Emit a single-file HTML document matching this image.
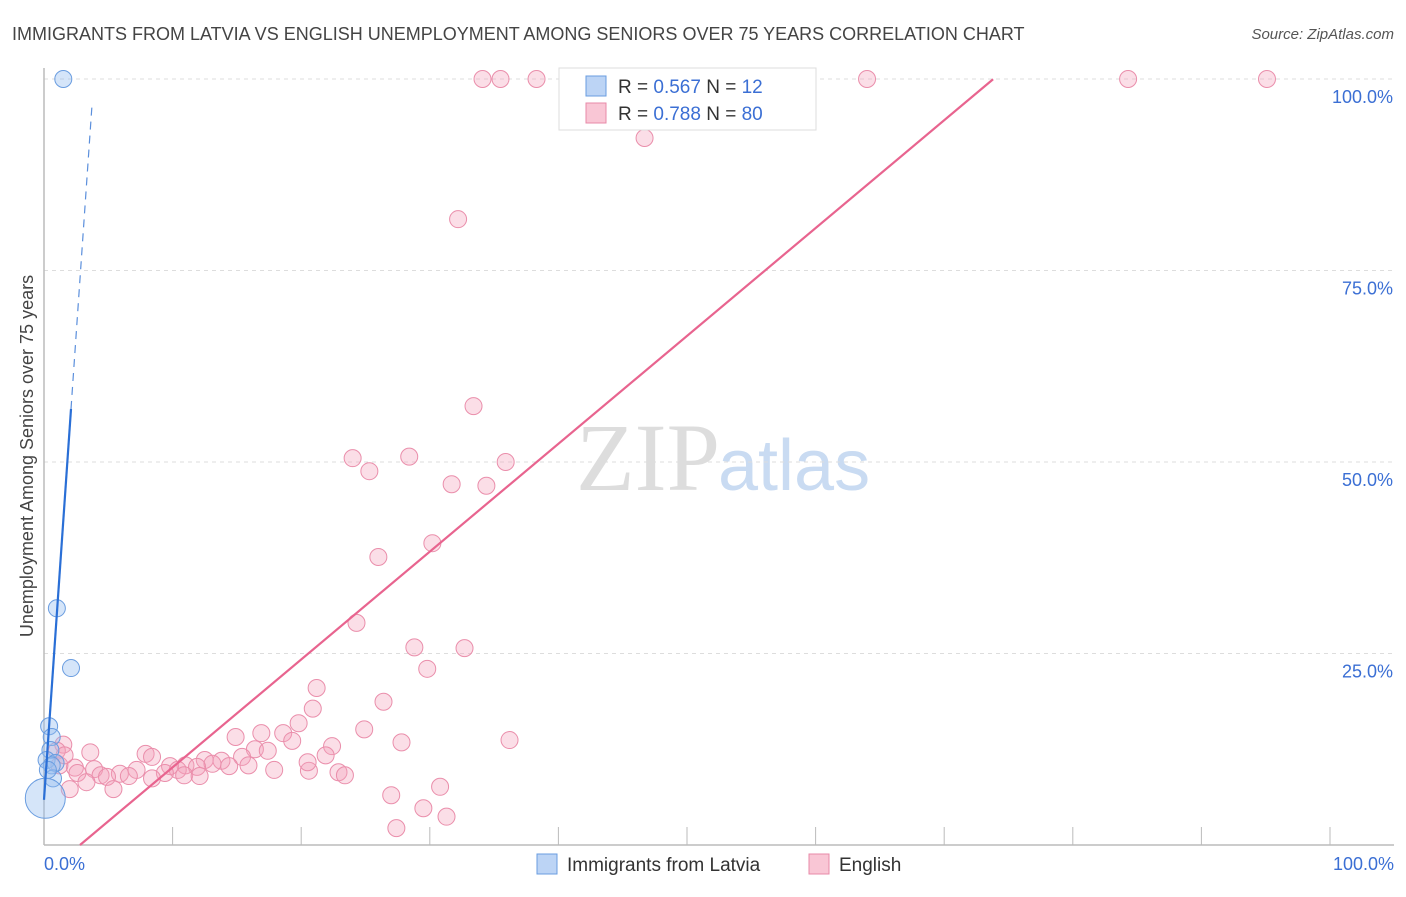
<!DOCTYPE html>
<html><head><meta charset="utf-8"><style>
body{margin:0;background:#fff;font-family:"Liberation Sans",sans-serif}
</style></head><body>
<svg width="1406" height="892" viewBox="0 0 1406 892" xmlns="http://www.w3.org/2000/svg" font-family="Liberation Sans, sans-serif">
<text x="12" y="40" font-size="18" fill="#444">IMMIGRANTS FROM LATVIA VS ENGLISH UNEMPLOYMENT AMONG SENIORS OVER 75 YEARS CORRELATION CHART</text>
<text x="1394" y="39" font-size="15" fill="#555" text-anchor="end" font-style="italic">Source: ZipAtlas.com</text>
<text x="720" y="490" font-size="96" text-anchor="end" fill="#ddd" font-family="Liberation Serif, serif">ZIP</text>
<text x="718" y="490" font-size="72" fill="#c9dbf2">atlas</text>
<g id="grid"></g>
<g id="axes"></g>
<g id="marks"></g>
<text transform="translate(33,456) rotate(-90)" font-size="18" fill="#444" text-anchor="middle">Unemployment Among Seniors over 75 years</text>
<text x="44" y="870" font-size="18" fill="#3b6fd4">0.0%</text>
<text x="1394" y="870" font-size="18" fill="#3b6fd4" text-anchor="end">100.0%</text>
<g>
<rect x="559" y="68" width="257" height="62" fill="#fff" stroke="#ddd"/>
<rect x="586" y="76" width="20" height="20" fill="#bcd4f5" stroke="#6a9de0"/>
<rect x="586" y="103" width="20" height="20" fill="#f9c6d5" stroke="#e88aa8"/>
<text x="618" y="93" font-size="19" fill="#333">R = <tspan fill="#3b6fd4">0.567</tspan>    N =  <tspan fill="#3b6fd4">12</tspan></text>
<text x="618" y="120" font-size="19" fill="#333">R = <tspan fill="#3b6fd4">0.788</tspan>    N = <tspan fill="#3b6fd4">80</tspan></text>
</g>
<g>
<rect x="537" y="854" width="20" height="20" fill="#bcd4f5" stroke="#6a9de0"/>
<text x="567" y="871" font-size="19" fill="#333">Immigrants from Latvia</text>
<rect x="809" y="854" width="20" height="20" fill="#f9c6d5" stroke="#e88aa8"/>
<text x="839" y="871" font-size="19" fill="#333">English</text>
</g>
</svg>
<script>
const yTicks=[25,50,75,100];
const yTickLabels=["25.0%","50.0%","75.0%","100.0%"];
const blueX=[1.5,1.0,2.1,0.4,0.6,0.5,0.2,0.9,0.6,0.7,0.3,0.1];
const blueY=[100,30.9,23.1,15.5,14.1,12.4,11.1,10.7,10.4,8.7,9.8,6.1];
const pinkX=[34.1,35.5,38.3,46.5,58.7,64.0,84.3,95.1,46.7,32.2,33.4,24.0,28.4,25.3,35.9,31.7,34.4,30.2,26.0,24.3,28.8,32.7,29.8,21.2,26.4,20.9,19.8,24.9,14.9,16.9,18.6,19.3,27.8,36.2,22.4,16.4,17.4,21.9,7.9,8.4,15.4,12.5,13.8,11.0,9.8,14.4,15.9,13.1,11.9,10.4,9.4,7.2,3.9,2.4,2.6,4.4,5.9,6.6,4.9,8.4,10.9,12.1,17.9,20.6,22.9,23.4,20.5,1.5,1.0,1.2,3.3,2.0,5.4,30.8,27.0,29.5,31.3,27.4,1.6,3.6];
const pinkY=[100,100,100,100,100,100,100,100,92.3,81.7,57.3,50.5,50.7,48.8,50.0,47.1,46.9,39.4,37.6,29.0,25.8,25.7,23.0,20.5,18.7,17.8,15.9,15.1,14.1,14.6,14.6,13.6,13.4,13.7,12.9,12.5,12.3,11.7,11.9,11.5,11.5,11.1,11.0,10.4,10.3,10.3,10.4,10.6,10.2,9.8,9.4,9.8,9.9,10.1,9.4,9.1,9.3,9.0,8.9,8.7,9.1,9.0,9.8,9.7,9.5,9.1,10.8,13.1,12.3,10.4,8.2,7.3,7.3,7.6,6.5,4.8,3.7,2.2,11.7,12.1];
const blueFit=[5.9,24.3];
const pinkFit=[-3.94,1.408];
const NS="http://www.w3.org/2000/svg";
const X=v=>44+v*12.86, Y=v=>845-v*7.66;
function mk(t,a,p){const e=document.createElementNS(NS,t);for(const k in a)e.setAttribute(k,a[k]);document.getElementById(p).appendChild(e);return e;}
yTicks.forEach((t,i)=>{
 const g=mk('line',{x1:44,x2:1394,y1:Y(t),y2:Y(t),stroke:'#ddd','stroke-dasharray':'4,4'},'grid');
 
 
 const l=mk('text',{x:1393,y:Y(t)+24,'font-size':18,fill:'#3b6fd4','text-anchor':'end'},'grid');
 l.textContent=yTickLabels[i];
 
 
});
const ax=mk('line',{x1:44,x2:1394,y1:845,y2:845,stroke:'#bbb','stroke-width':1.5},'axes');


const ay=mk('line',{x1:44,x2:44,y1:68,y2:845,stroke:'#bbb','stroke-width':1.5},'axes');


for(let i=1;i<=10;i++){const t=mk('line',{x1:X(i*10),x2:X(i*10),y1:827,y2:845,stroke:'#bbb'},'axes');
 
 }
pinkX.forEach((x,i)=>{const c=mk('circle',{cx:X(x),cy:Y(pinkY[i]),r:8.5,fill:'rgba(244,160,185,0.35)',stroke:'#ea8eab','stroke-width':1},'marks');
 
 });
blueX.forEach((x,i)=>{const c=mk('circle',{cx:X(x),cy:Y(blueY[i]),r:i==blueX.length-1?20:8.5,fill:'rgba(150,190,240,0.4)',stroke:'#6a9de0','stroke-width':1},'marks');
 
 });
const pl=mk('line',{x1:X(2.8),y1:Y(pinkFit[0]+pinkFit[1]*2.8),x2:X(73.8),y2:Y(pinkFit[0]+pinkFit[1]*73.8),stroke:'#e8648f','stroke-width':2.2},'marks');


const bl=mk('line',{x1:X(0),y1:Y(blueFit[0]),x2:X(2.1),y2:Y(blueFit[0]+blueFit[1]*2.1),stroke:'#2a6fd6','stroke-width':2.2},'marks');


const bd=mk('line',{x1:X(2.1),y1:Y(blueFit[0]+blueFit[1]*2.1),x2:X(3.75),y2:Y(blueFit[0]+blueFit[1]*3.75),stroke:'#5b8fdc','stroke-width':1.2,'stroke-dasharray':'8,6'},'marks');


</script>
</body></html>
